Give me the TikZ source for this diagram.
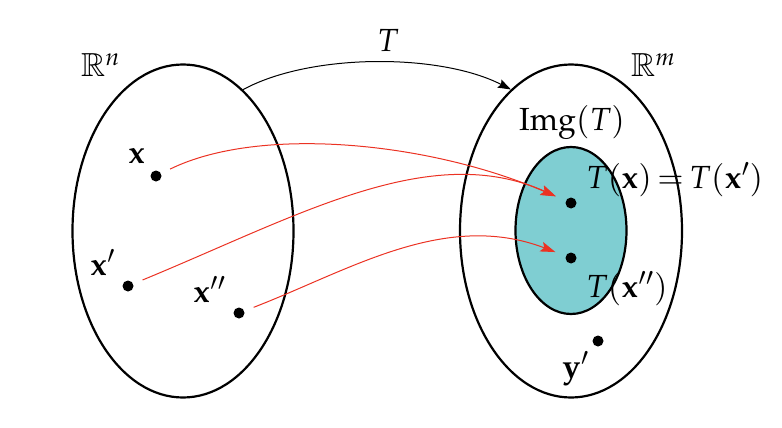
\documentclass[tikz,border=0pt]{standalone}
\usepackage[T1]{fontenc}
\usepackage[noBBpl]{mathpazo}
\usepackage{amssymb}
\usetikzlibrary{shapes.geometric,arrows.meta}
\definecolor{arrred}{RGB}{235,50,35}
\definecolor{imgteal}{RGB}{127,206,210}
\tikzset{
  lbl/.style={inner sep=0pt, font=\fontsize{32}{38}\selectfont},
  ptdot/.style={circle, fill=black, inner sep=0pt, minimum size=11pt},
  spaceset/.style={ellipse, draw, line width=2.2pt, inner sep=0pt},
  maparrow/.style={draw=arrred, line width=1pt, -{Stealth[length=15pt,width=10pt,inset=3pt]}, shorten <=10pt, shorten >=11pt},
  tarrow/.style={draw=black, line width=1pt, -{Stealth[length=13pt,width=9pt,inset=2pt]}},
}
\begin{document}
\begin{tikzpicture}[x=1pt,y=-1pt]
\useasboundingbox (0,0) rectangle (782,428);
% sets
\node[spaceset, minimum width=221pt, minimum height=333pt] (L) at (183,231) {};
\node[spaceset, minimum width=222pt, minimum height=333pt] (R) at (571,231) {};
\node[spaceset, fill=imgteal, minimum width=111pt, minimum height=167pt] (I) at (571,230.5) {};
% labels
\node[lbl, anchor=base west] (Rn) at (81,77) {$\mathbb{R}^n$};
\node[lbl, anchor=base west] (Rm) at (631,77) {$\mathbb{R}^m$};
\node[lbl, anchor=base] (Tl) at (388,52) {$T$};
\node[lbl, anchor=base west] (Img) at (519,130) {$\mathrm{Img}(T)$};
% points
\node[ptdot] (x) at (156,176) {};
\node[ptdot] (xp) at (128,286) {};
\node[ptdot] (xpp) at (239,313) {};
\node[ptdot] (tx) at (571,203) {};
\node[ptdot] (txpp) at (571,258) {};
\node[ptdot] (yp) at (598,341) {};
\node[lbl, anchor=base west] (xl) at (128,163) {$\mathbf{x}$};
\node[lbl, anchor=base west] (xpl) at (90,275) {$\mathbf{x}'$};
\node[lbl, anchor=base west] (xppl) at (193,302) {$\mathbf{x}''$};
\node[lbl, anchor=base west] (txl) at (586,188) {\thickmuskip=3mu$T(\mathbf{x})=T(\mathbf{x}')$};
\node[lbl, anchor=base west] (txppl) at (586,297) {$T(\mathbf{x}'')$};
\node[lbl, anchor=base west] (ypl) at (562,377) {$\mathbf{y}'$};
% map arrow
\draw[tarrow] (L.67) .. controls (310,53) and (440,53) .. (R.113);
% red arrows
\draw[maparrow] (x) .. controls (260,125) and (430,142) .. (tx);
\draw[maparrow] (xp) .. controls (300,215) and (430,140) .. (tx);
\draw[maparrow] (xpp) .. controls (350,270) and (445,210) .. (txpp);
\end{tikzpicture}
\end{document}
